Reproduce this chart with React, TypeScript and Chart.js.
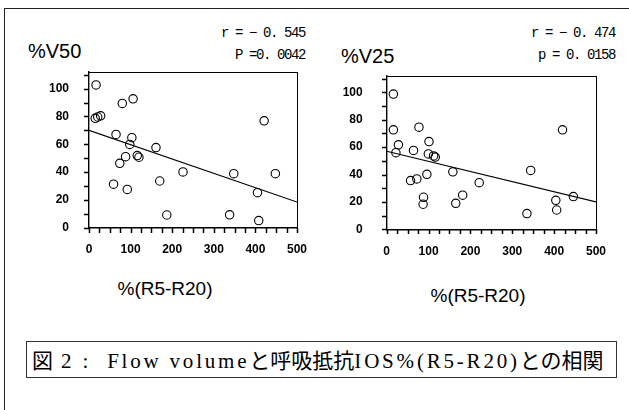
import React, { useEffect, useRef } from "react";
import { Chart, registerables } from "chart.js";

Chart.register(...registerables);

// %V50 vs %(R5-R20)
const v50X = [17, 15, 21, 28, 80, 106, 65, 103, 98, 161, 88, 116, 120, 74, 59, 92, 170, 226, 187, 348, 338, 448, 421, 405, 408];
const v50Y = [102.7, 78.6, 79.6, 80.4, 89.4, 92.7, 67, 64.7, 59.8, 57.6, 51, 51.8, 50.6, 46.2, 31.2, 27.4, 33.5, 40, 9, 38.8, 9.1, 38.8, 76.8, 25.1, 5];
const v50TrendX = [0, 500];
const v50TrendY = [70, 18.3];

// %V25 vs %(R5-R20)
const v25X = [16, 16, 28, 22, 64, 77, 101, 99.5, 112, 116, 57, 72, 96, 88, 87, 158, 165, 181.5, 221, 335, 344, 404, 406, 420, 446];
const v25Y = [98.8, 72.7, 61.7, 56, 57.6, 74.6, 64.1, 55.1, 53.6, 52.8, 35.6, 36.8, 40.2, 23.4, 18.3, 42, 19, 24.9, 34.1, 11.5, 43, 21.2, 14.1, 72.7, 23.9];
const v25TrendX = [0, 500];
const v25TrendY = [57, 20];

const xMin = 0;
const xMax = 500;
const xMinorStep = 25;
const xLabelStep = 100;
const yMin = 0;
const yMax = 112;
const yMinorStep = 10;
const yLabelStep = 20;

const TICK_LEN = 5;

const tickMarkPlugin = {
  id: "tickMarks",
  afterDraw(chart: any) {
    const { ctx, chartArea } = chart;
    const xs = chart.scales.x;
    const ys = chart.scales.y;
    ctx.save();
    ctx.strokeStyle = "#000";
    ctx.lineWidth = 1.5;
    ctx.beginPath();
    const b = Math.round(chartArea.bottom);
    const l = Math.round(chartArea.left);
    for (let v = xMin; v <= xMax; v += xMinorStep) {
      const px = Math.round(xs.getPixelForValue(v)) + 0.5;
      ctx.moveTo(px, b);
      ctx.lineTo(px, b + TICK_LEN);
    }
    for (let v = yMin; v <= yMax; v += yMinorStep) {
      const py = Math.round(ys.getPixelForValue(v)) + 0.5;
      ctx.moveTo(l - TICK_LEN, py);
      ctx.lineTo(l, py);
    }
    ctx.stroke();
    ctx.restore();
  },
};

type PlotProps = {
  xs: number[];
  ys: number[];
  tx: number[];
  ty: number[];
  left: number;
  top: number;
  width: number;
  height: number;
  padRight: number;
  padTop: number;
  yAxisW: number;
  xAxisH: number;
  yTickPad: number;
  xTickPad: number;
};

function Plot(p: PlotProps) {
  const ref = useRef<HTMLCanvasElement>(null);
  useEffect(() => {
    const pts = p.xs.map((x, i) => ({ x, y: p.ys[i] }));
    const line = p.tx.map((x, i) => ({ x, y: p.ty[i] }));
    const tickFont = { family: "'Liberation Sans', Arial, sans-serif", size: 12, weight: "bold" as const };
    const zeroPad = (s: any) => {
      s.paddingTop = 0;
      s.paddingBottom = 0;
      s.paddingLeft = 0;
      s.paddingRight = 0;
    };
    const chart = new Chart(ref.current as HTMLCanvasElement, {
      type: "scatter",
      data: {
        datasets: [
          {
            type: "line",
            data: line,
            borderColor: "#000",
            borderWidth: 1.1,
            pointRadius: 0,
            fill: false,
            order: 2,
          } as any,
          {
            data: pts,
            pointRadius: 4.2,
            pointBorderColor: "#000",
            pointBackgroundColor: "rgba(255,255,255,0)",
            pointBorderWidth: 1.1,
            showLine: false,
            order: 1,
          },
        ],
      },
      options: {
        animation: false,
        responsive: false,
        layout: { padding: { left: 0, right: p.padRight, top: p.padTop, bottom: 0 } },
        plugins: { legend: { display: false }, tooltip: { enabled: false } },
        scales: {
          x: {
            type: "linear",
            position: "bottom",
            min: xMin,
            max: xMax,
            afterFit: (s: any) => {
              s.height = p.xAxisH;
              zeroPad(s);
            },
            border: { display: true, color: "#000", width: 1.4 },
            grid: { display: false },
            ticks: {
              stepSize: xMinorStep,
              autoSkip: false,
              maxRotation: 0,
              includeBounds: false,
              padding: p.xTickPad + 4,
              color: "#000",
              font: tickFont,
              callback: (v: any) => (Number(v) % xLabelStep === 0 ? String(v) : ""),
            },
          },
          x2: {
            type: "linear",
            position: "top",
            min: xMin,
            max: xMax,
            afterFit: (s: any) => {
              s.height = 0;
              zeroPad(s);
            },
            border: { display: true, color: "#000", width: 1 },
            grid: { display: false },
            ticks: { display: false },
          },
          y: {
            type: "linear",
            position: "left",
            min: yMin,
            max: yMax,
            afterFit: (s: any) => {
              s.width = p.yAxisW;
              zeroPad(s);
            },
            border: { display: true, color: "#000", width: 1.4 },
            grid: { display: false },
            ticks: {
              stepSize: yMinorStep,
              autoSkip: false,
              includeBounds: false,
              padding: p.yTickPad + 4,
              color: "#000",
              font: tickFont,
              callback: (v: any) => (Number(v) % yLabelStep === 0 ? String(v) : ""),
            },
          },
          y2: {
            type: "linear",
            position: "right",
            min: yMin,
            max: yMax,
            afterFit: (s: any) => {
              s.width = 0;
              zeroPad(s);
            },
            border: { display: true, color: "#000", width: 1 },
            grid: { display: false },
            ticks: { display: false },
          },
        },
      },
      plugins: [tickMarkPlugin],
    } as any);
    return () => chart.destroy();
  }, []);
  return (
    <canvas
      ref={ref}
      width={p.width}
      height={p.height}
      style={{ position: "absolute", left: p.left, top: p.top, width: p.width, height: p.height }}
    />
  );
}

const sans = "'Liberation Sans', Arial, sans-serif";
const mono = "'Liberation Mono', 'Noto Sans CJK JP', monospace";
const serif = "'Liberation Serif', 'Noto Sans CJK JP', serif";

function Txt(props: { x: number; y: number; w?: number; align?: "left" | "right" | "center"; size: number; font: string; ls?: number; children: React.ReactNode }) {
  const w = props.w ?? 200;
  let left = props.x;
  if (props.align === "right") left = props.x - w;
  if (props.align === "center") left = props.x - w / 2;
  return (
    <div
      style={{
        position: "absolute",
        left,
        top: props.y,
        width: w,
        textAlign: props.align ?? "left",
        fontFamily: props.font,
        fontSize: props.size,
        lineHeight: `${props.size}px`,
        letterSpacing: props.ls ?? 0,
        whiteSpace: "pre",
        color: "#000",
      }}
    >
      {props.children}
    </div>
  );
}

const latin = { letterSpacing: 2.8, fontFamily: "'Liberation Serif', serif" };

export default function App() {
  return (
    <div style={{ position: "absolute", left: 0, top: 0, width: 629, height: 410, overflow: "hidden", background: "#fff" }}>
      <div style={{ position: "absolute", left: 4, top: 8, width: 700, height: 500, borderTop: "1px solid #222", borderLeft: "1px solid #222" }} />

      <Txt x={28} y={41} size={20} font={sans}>%V50</Txt>
      <Txt x={305} y={26} align="right" size={14} font={mono} ls={-1.4}>r = − 0. 545</Txt>
      <Txt x={305} y={48} align="right" size={14} font={mono} ls={-1.4}>P =0. 0042</Txt>

      <Txt x={341} y={46} size={20} font={sans}>%V25</Txt>
      <Txt x={615} y={26} align="right" size={14} font={mono} ls={-1.4}>r = − 0. 474</Txt>
      <Txt x={615} y={48} align="right" size={14} font={mono} ls={-1.4}>p = 0. 0158</Txt>

      <Plot
        xs={v50X} ys={v50Y} tx={v50TrendX} ty={v50TrendY}
        left={30} top={62} width={285} height={195}
        padRight={18} padTop={10} yAxisW={59} xAxisH={29.5}
        yTickPad={8} xTickPad={3}
      />
      <Plot
        xs={v25X} ys={v25Y} tx={v25TrendX} ty={v25TrendY}
        left={325} top={66} width={290} height={195}
        padRight={19} padTop={10} yAxisW={61.7} xAxisH={31.7}
        yTickPad={12} xTickPad={3}
      />

      <Txt x={165} y={279} w={160} align="center" size={19} font={sans}>%(R5-R20)</Txt>
      <Txt x={478} y={286} w={160} align="center" size={19} font={sans}>%(R5-R20)</Txt>

      <div
        style={{
          position: "absolute",
          left: 26,
          top: 341,
          width: 584,
          height: 35,
          border: "1px solid #333",
          fontFamily: serif,
          fontSize: 21,
          lineHeight: "35px",
          paddingLeft: 5,
          boxSizing: "content-box",
          whiteSpace: "pre",
          color: "#000",
        }}
      >
        <span style={{ fontFamily: "'Noto Sans CJK JP', sans-serif" }}>図</span>
        <span style={latin}>{" 2 :  Flow volume"}</span>
        <span style={{ fontFamily: "'Noto Sans CJK JP', sans-serif" }}>と呼吸抵抗</span>
        <span style={latin}>IOS%(R5-R20)</span>
        <span style={{ fontFamily: "'Noto Sans CJK JP', sans-serif" }}>との相関</span>
      </div>
    </div>
  );
}
